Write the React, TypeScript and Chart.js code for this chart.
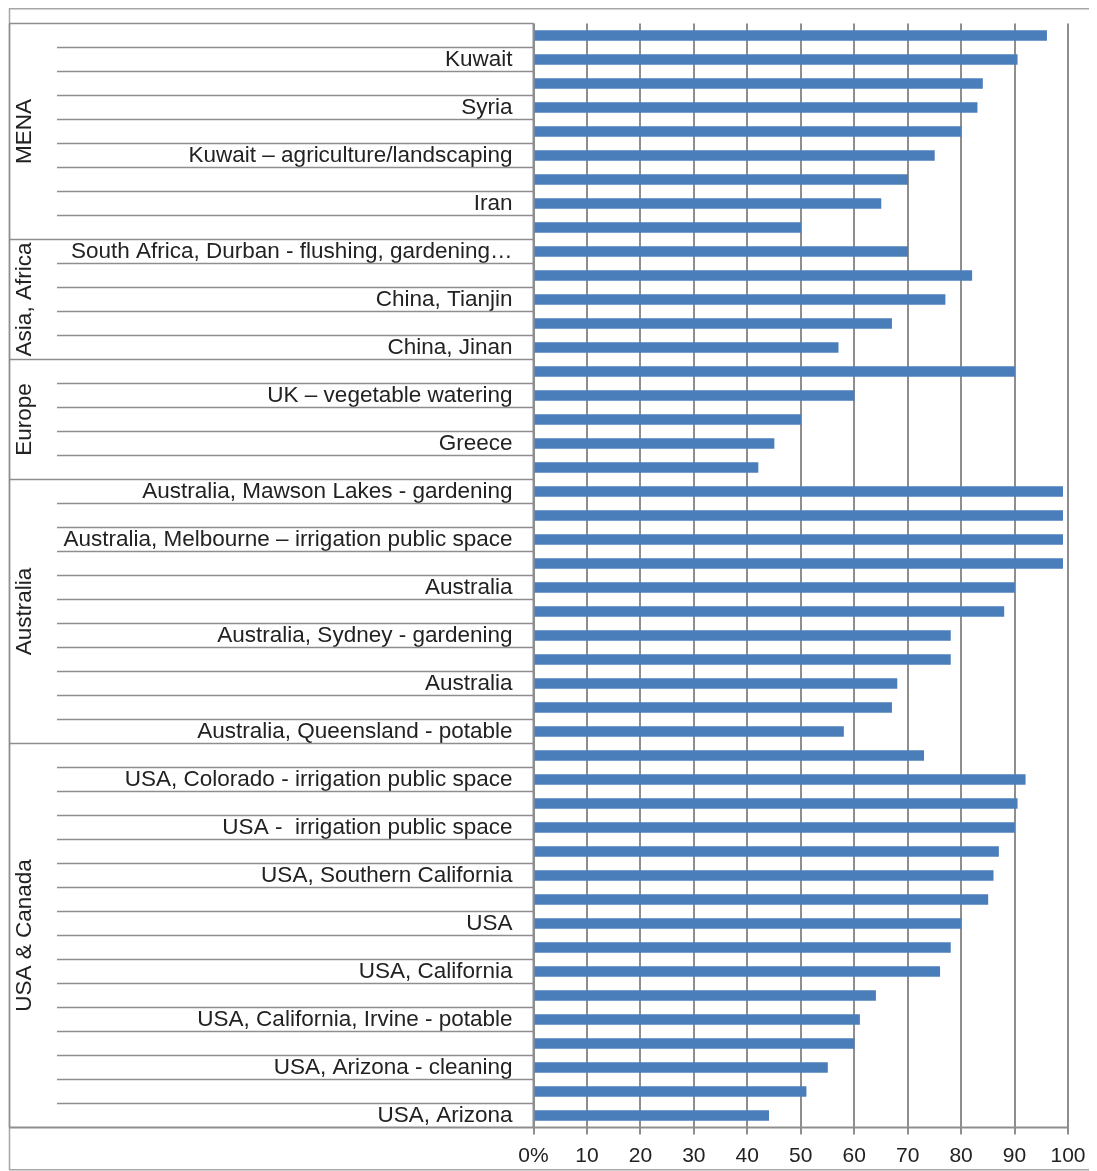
import React, { useEffect, useRef } from "react";
import { Chart, registerables } from "chart.js";

Chart.register(...registerables);

// ---- Data ----
const categories: string[] = [
  "", "Kuwait", "", "Syria", "", "Kuwait – agriculture/landscaping", "", "Iran", "",
  "South Africa, Durban - flushing, gardening…", "", "China, Tianjin", "", "China, Jinan",
  "", "UK – vegetable watering", "", "Greece", "",
  "Australia, Mawson Lakes - gardening", "", "Australia, Melbourne – irrigation public space", "",
  "Australia", "", "Australia, Sydney - gardening", "", "Australia", "", "Australia, Queensland - potable",
  "", "USA, Colorado - irrigation public space", "", "USA -  irrigation public space", "",
  "USA, Southern California", "", "USA", "", "USA, California", "", "USA, California, Irvine - potable",
  "", "USA, Arizona - cleaning", "", "USA, Arizona",
];

const menaValues = [96, 90.5, 84, 83, 80, 75, 70, 65, 50];
const asiaAfricaValues = [70, 82, 77, 67, 57];
const europeValues = [90, 60, 50, 45, 42];
const australiaValues = [99, 99, 99, 99, 90, 88, 78, 78, 68, 67, 58];
const usaCanadaValues = [73, 92, 90.5, 90, 87, 86, 85, 80, 78, 76, 64, 61, 60, 55, 51, 44];

const groupNames = ["MENA", "Asia, Africa", "Europe", "Australia", "USA & Canada"];
const groupSizes = [
  menaValues.length,
  asiaAfricaValues.length,
  europeValues.length,
  australiaValues.length,
  usaCanadaValues.length,
];

const xTickValues = [0, 10, 20, 30, 40, 50, 60, 70, 80, 90, 100];

const allValues = [
  ...menaValues,
  ...asiaAfricaValues,
  ...europeValues,
  ...australiaValues,
  ...usaCanadaValues,
];

// ---- Styles ----
const W = 1089;
const H = 1163;
const FONT = "'Liberation Sans', Arial, sans-serif";
const TEXT = "#222222";
const LINE = "#8e8e8e";
const BAR = "#4a7ebb";

const categoryPlugin = {
  id: "categoryBoxes",
  afterDraw(chart: any) {
    const ctx = chart.ctx;
    const area = chart.chartArea;
    const yScale = chart.scales.y;
    const n = categories.length;
    const boxLeft = 1.5;
    const rowLeft = 49;
    const axisX = area.left;

    const boundary = (k: number) => {
      if (k <= 0) return area.top;
      if (k >= n) return area.bottom;
      return (yScale.getPixelForTick(k - 1) + yScale.getPixelForTick(k)) / 2;
    };

    const groupStarts = new Set<number>();
    let acc = 0;
    groupSizes.forEach((s) => {
      groupStarts.add(acc);
      acc += s;
    });

    ctx.save();
    // outer frame
    ctx.strokeStyle = "#a6a6a6";
    ctx.lineWidth = 1.5;
    ctx.strokeRect(1.5, 0.75, W - 3, H - 2);

    ctx.strokeStyle = LINE;
    ctx.lineWidth = 1.5;
    // row separators
    for (let k = 1; k < n; k++) {
      const y = boundary(k);
      ctx.beginPath();
      if (groupStarts.has(k)) ctx.moveTo(boxLeft, y);
      else ctx.moveTo(rowLeft, y);
      ctx.lineTo(axisX, y);
      ctx.stroke();
    }
    // box top
    ctx.beginPath();
    ctx.moveTo(boxLeft, area.top);
    ctx.lineTo(axisX, area.top);
    ctx.stroke();
    // box left
    ctx.beginPath();
    ctx.moveTo(boxLeft, area.top);
    ctx.lineTo(boxLeft, area.bottom);
    ctx.stroke();
    // y axis line
    ctx.lineWidth = 2;
    ctx.beginPath();
    ctx.moveTo(axisX, area.top);
    ctx.lineTo(axisX, area.bottom);
    ctx.stroke();
    // x axis line, full width
    ctx.beginPath();
    ctx.moveTo(boxLeft, area.bottom);
    ctx.lineTo(area.right, area.bottom);
    ctx.stroke();

    // group labels
    ctx.fillStyle = TEXT;
    ctx.font = `22.5px ${FONT}`;
    ctx.textAlign = "center";
    ctx.textBaseline = "middle";
    let start = 0;
    groupNames.forEach((name, i) => {
      const end = start + groupSizes[i];
      const yc = (boundary(start) + boundary(end)) / 2;
      ctx.save();
      ctx.translate(17, yc);
      ctx.rotate(-Math.PI / 2);
      ctx.fillText(name, 0, 0);
      ctx.restore();
      start = end;
    });
    ctx.restore();
  },
};

export default function App() {
  const ref = useRef<HTMLCanvasElement | null>(null);

  useEffect(() => {
    if (!ref.current) return;
    const chart = new Chart(ref.current, {
      type: "bar",
      data: {
        labels: categories,
        datasets: [
          {
            data: allValues,
            backgroundColor: BAR,
            borderWidth: 0,
            barThickness: 10,
          },
        ],
      },
      options: {
        indexAxis: "y",
        responsive: false,
        animation: false,
        events: [],
        layout: { padding: { left: 0, top: 15.5, right: 29, bottom: 0 } },
        plugins: {
          legend: { display: false },
          tooltip: { enabled: false },
        },
        scales: {
          y: {
            type: "category",
            offset: true,
            grid: { display: false, drawTicks: false },
            border: { display: false },
            ticks: {
              autoSkip: false,
              padding: 21,
              color: TEXT,
              font: { family: FONT, size: 22.5 },
            },
            afterFit: (s: any) => {
              s.width = 525.5;
              s.paddingTop = 0;
              s.paddingBottom = 0;
            },
          },
          x: {
            type: "linear",
            min: 0,
            max: 100,
            afterBuildTicks: (s: any) => {
              s.ticks = xTickValues.map((v) => ({ value: v }));
            },
            grid: { color: LINE, lineWidth: 2, drawTicks: true, tickLength: 7 },
            border: { display: false },
            ticks: {
              padding: 9,
              color: TEXT,
              font: { family: FONT, size: 21 },
              callback: (v: any) => (Number(v) === 0 ? "0%" : String(v)),
            },
            afterFit: (s: any) => {
              s.height = 43.5;
              s.paddingLeft = 0;
              s.paddingRight = 0;
            },
          },
        },
      },
      plugins: [categoryPlugin],
    } as any);
    return () => chart.destroy();
  }, []);

  return (
    <div style={{ width: W, height: H, background: "#ffffff" }}>
      <canvas ref={ref} width={W} height={H} style={{ display: "block" }} />
    </div>
  );
}
